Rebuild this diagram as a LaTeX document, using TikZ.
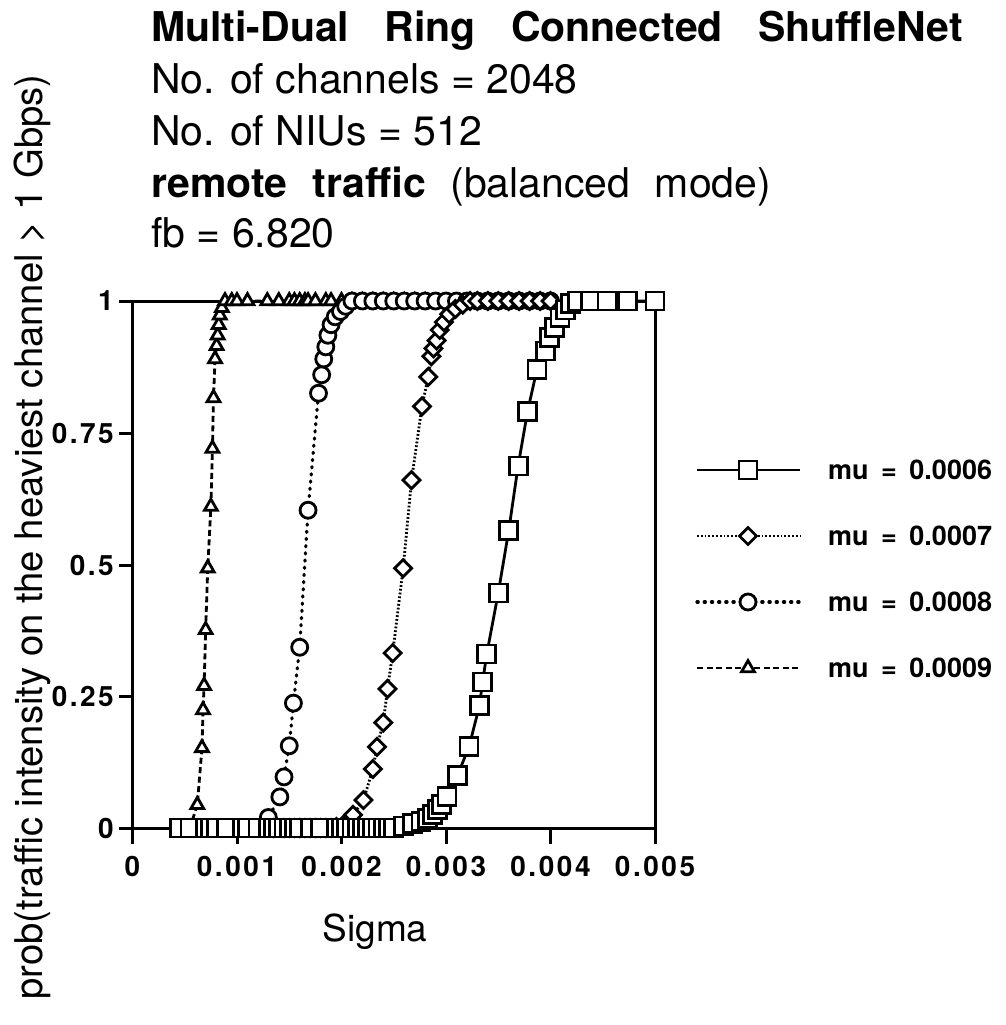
\documentclass[tikz,border=0pt]{standalone}
\usepackage{fontspec}
\setmainfont{TeX Gyre Heros}
\newfontfamily\tickfont[LetterSpace=9]{TeX Gyre Heros}
\usetikzlibrary{plotmarks}

% sigma in units of 0.001, probability
\def\dataSq{(0.45,0)(0.55,0)(0.7,0)(0.75,0)(0.8,0)(0.9,0)(1.05,0)(1.1,0)(1.2,0)(1.3,0)(1.35,0)(1.4,0)(1.45,0)(1.5,0)(1.55,0)(1.6,0)(1.7,0)(1.8,0)(1.95,0)(2.0,0)(2.05,0)(2.1,0)(2.15,0)(2.2,0)(2.25,0)(2.3,0)(2.35,0)(2.4,0)(2.45,0)(2.5,0)(2.59,0.004)(2.68,0.008)(2.76,0.013)(2.82,0.018)(2.87,0.025)(2.92,0.035)(2.96,0.045)(3.01,0.06)(3.11,0.10)(3.22,0.154)(3.32,0.232)(3.35,0.277)(3.39,0.33)(3.50,0.446)(3.60,0.564)(3.69,0.687)(3.78,0.79)(3.87,0.87)(3.95,0.905)(3.99,0.93)(4.04,0.95)(4.09,0.968)(4.14,0.983)(4.19,0.995)(4.26,1)(4.38,1)(4.54,1)(4.74,1)(5.0,1)}
\def\dataDi{(1.35,0)(1.45,0)(1.5,0)(1.55,0)(1.6,0)(1.65,0)(1.7,0)(1.75,0)(1.8,0)(1.85,0)(1.9,0)(1.95,0.002)(2.02,0.006)(2.11,0.025)(2.21,0.053)(2.30,0.112)(2.34,0.154)(2.40,0.2)(2.44,0.264)(2.49,0.332)(2.59,0.493)(2.67,0.66)(2.77,0.80)(2.83,0.856)(2.86,0.895)(2.88,0.91)(2.91,0.925)(2.94,0.945)(2.98,0.96)(3.03,0.975)(3.09,0.985)(3.16,0.993)(3.23,1)(3.3,1)(3.4,1)(3.5,1)(3.6,1)(3.7,1)(3.8,1)(3.9,1)(4.0,1)}
\def\dataCi{(0.6,0)(0.7,0)(0.8,0)(0.85,0)(0.95,0)(1.0,0)(1.05,0)(1.1,0)(1.15,0)(1.2,0)(1.3,0.02)(1.41,0.059)(1.45,0.097)(1.50,0.156)(1.54,0.237)(1.60,0.343)(1.68,0.603)(1.78,0.825)(1.81,0.86)(1.83,0.89)(1.85,0.913)(1.87,0.935)(1.90,0.955)(1.94,0.97)(1.99,0.98)(2.04,0.99)(2.10,1)(2.2,1)(2.3,1)(2.4,1)(2.5,1)(2.6,1)(2.7,1)(2.8,1)(2.9,1)(3.0,1)(3.1,1)(3.2,1)(3.3,1)(3.4,1)(3.5,1)(3.6,1)(3.7,1)(3.8,1)(3.9,1)(4.0,1)}
\def\dataTr{(0.45,0)(0.5,0)(0.55,0)(0.62,0.044)(0.665,0.152)(0.675,0.224)(0.685,0.27)(0.70,0.376)(0.72,0.493)(0.75,0.61)(0.765,0.72)(0.775,0.816)(0.79,0.89)(0.805,0.915)(0.815,0.935)(0.825,0.955)(0.835,0.973)(0.855,0.987)(0.885,1)(0.95,1)(1.0,1)(1.1,1)(1.29,1)(1.4,1)(1.5,1)(1.55,1)(1.6,1)(1.65,1)(1.68,1)(1.75,1)(1.85,1)(1.9,1)(2.0,1)(2.1,1)(2.2,1)(2.3,1)(2.4,1)(2.5,1)(2.6,1)(2.7,1)(2.8,1)}

\newcommand\seriesline[2]{\draw[#2] plot coordinates {#1};}
\newcommand\seriesmarks[2]{\draw[#2, only marks] plot coordinates {#1};}

\begin{document}
\begin{tikzpicture}[x=1pt, y=-1pt,
  frame/.style={line width=3pt},
  s6/.style={line width=2.8pt},
  s7/.style={line width=2.8pt, dash pattern=on 1.8pt off 2pt},
  s8/.style={line width=3.2pt, line cap=round, dash pattern=on 1.2pt off 6pt},
  s9/.style={line width=2.8pt, dash pattern=on 6pt off 3.5pt},
  mk6/.style={mark=square*, mark size=9pt,
    mark options={solid, draw=black, fill=white, line width=2.8pt}},
  mk7/.style={mark=square*, mark size=6pt,
    mark options={solid, draw=black, fill=white, line width=2.8pt, rotate=45}},
  mk8/.style={mark=*, mark size=8pt,
    mark options={solid, draw=black, fill=white, line width=2.8pt}},
  mk9/.style={mark=triangle*, mark size=7.4pt,
    mark options={solid, draw=black, fill=white, line width=2.8pt}},
  headline/.style={font=\fontsize{41}{49}\selectfont, anchor=base west, inner sep=0pt},
  ticklab/.style={font=\fontsize{28}{32}\selectfont\tickfont\bfseries, inner sep=0pt},
  legfont/.style={font=\fontsize{27}{32}\selectfont\bfseries, inner sep=0pt, anchor=west}]

\useasboundingbox (0,0) rectangle (1005,1025);

% heading
\node[headline, font=\fontsize{41}{49}\selectfont\bfseries] (title) at (151,42)
  {Multi-Dual\hspace{24pt} Ring\hspace{24pt} Connected\hspace{24pt} ShuffleNet};
\node[headline] (chan) at (151,93) {No. of channels = 2048};
\node[headline] (nius) at (151,145) {No. of NIUs = 512};
\node[headline] (mode) at (151,197)
  {\textbf{remote\hspace{14pt} traffic}\hspace{13pt} (balanced\hspace{13pt} mode)};
\node[headline] (fb) at (151,247) {fb = 6.820};

% axis titles
\node[rotate=90, anchor=base, inner sep=0pt] (ytitle) at (42,537)
  {\resizebox{925pt}{!}{\fontsize{37}{40}\selectfont prob(traffic intensity on the heaviest channel > 1 Gbps)}};
\node[font=\fontsize{37}{40}\selectfont, inner sep=0pt] (xtitle) at (375,932) {Sigma};

% frame and ticks
\draw[frame] (132.5,301) rectangle (655,828);
\foreach \y in {301,433,565,696,828} \draw[frame] (119,\y) -- (132.5,\y);
\foreach \x in {132.5,237,341.5,446,550.5,655} \draw[frame] (\x,828) -- (\x,844);

\foreach \x/\t [count=\i] in {132.5/0,237/0.001,341.5/0.002,446/0.003,550.5/0.004,655/0.005}
  \node[ticklab] (xl\i) at (\x,866) {\t};
\foreach \y/\t [count=\i] in {301/1,433/0.75,565/0.5,696/0.25,828/0}
  \node[ticklab, anchor=east] (yl\i) at (114,\y) {\t};

% curves
\begin{scope}[shift={(132.5pt,-828pt)}, x=104.5pt, y=527pt]
  \expandafter\seriesline\expandafter{\dataTr}{s9}
  \expandafter\seriesline\expandafter{\dataCi}{s8}
  \expandafter\seriesline\expandafter{\dataDi}{s7}
  \expandafter\seriesline\expandafter{\dataSq}{s6}
  \expandafter\seriesmarks\expandafter{\dataTr}{mk9}
  \expandafter\seriesmarks\expandafter{\dataCi}{mk8}
  \expandafter\seriesmarks\expandafter{\dataDi}{mk7}
  \expandafter\seriesmarks\expandafter{\dataSq}{mk6}
\end{scope}

% legend
\draw[s6] (697,470) -- (800,470);
\draw[mk6, only marks] plot coordinates {(748,470)};
\node[legfont] (lg6) at (828,470) {mu\hspace{5pt} =\hspace{5pt} 0.0006};
\draw[s7] (697,536) -- (800,536);
\draw[mk7, only marks] plot coordinates {(748,536)};
\node[legfont] (lg7) at (828,536) {mu\hspace{5pt} =\hspace{5pt} 0.0007};
\draw[s8] (697,602) -- (800,602);
\draw[mk8, only marks] plot coordinates {(748,602)};
\node[legfont] (lg8) at (828,602) {mu\hspace{5pt} =\hspace{5pt} 0.0008};
\draw[s9] (697,668) -- (800,668);
\draw[mk9, only marks] plot coordinates {(748,668)};
\node[legfont] (lg9) at (828,668) {mu\hspace{5pt} =\hspace{5pt} 0.0009};
\end{tikzpicture}
\end{document}
